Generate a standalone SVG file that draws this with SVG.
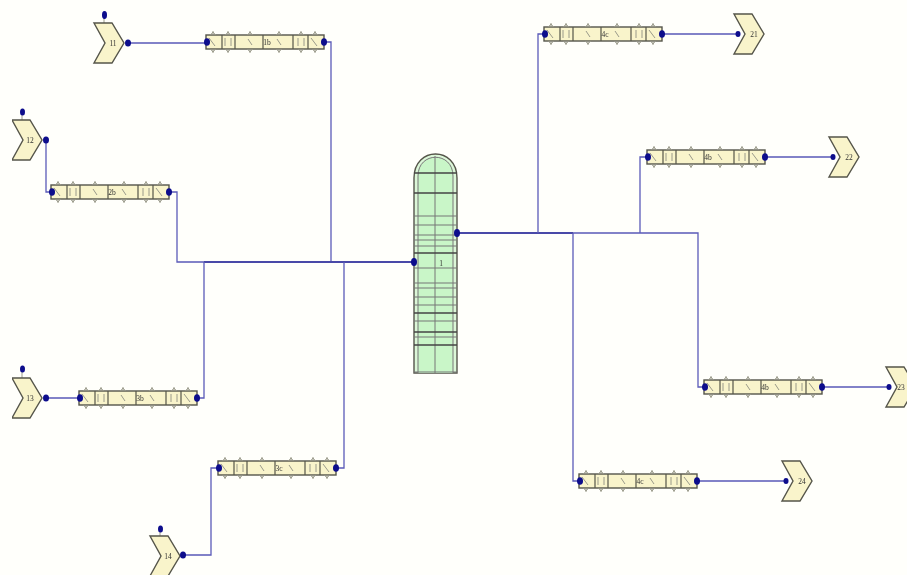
<svg xmlns="http://www.w3.org/2000/svg" width="907" height="575" viewBox="0 0 907 575">
<style>
.c{fill:none;stroke:#5a5ab8;stroke-width:1.3}
.t{stroke-width:2;stroke:#4a4aa8;fill:none}
.d{fill:#0a0a8c}
.sh{fill:#f9f4cb;stroke:#55554a;stroke-width:1.4}
.div{stroke:#55554a;stroke-width:1.2;fill:none}
.nz{stroke:#9a9a8a;stroke-width:1;fill:none}
.hl{stroke:#777;stroke-width:1.2}
.hb{stroke:#444;stroke-width:1.6}
text{font-family:"Liberation Serif",serif;fill:#333}
.l{font-size:7.500px;text-anchor:middle}
</style>
<defs>
<filter id="b" x="0" y="0" width="100%" height="100%"><feGaussianBlur stdDeviation="0.55"/></filter>
<g id="hx">
<rect x="0" y="-7" width="118" height="14" class="sh"/>
<path class="div" d="M16-7V7M29-7V7M57-7V7M87-7V7M102-7V7"/>
<path class="nz" d="M7-7v-4M22-7v-4M44-7v-4M73-7v-4M95-7v-4M109-7v-4M7 7v4M22 7v4M44 7v4M73 7v4M95 7v4M109 7v4"/>
<path class="nz" d="M4.500-7l2.500-3 2.500 3M19.500-7l2.500-3 2.500 3M41.500-7l2.500-3 2.500 3M70.500-7l2.500-3 2.500 3M92.500-7l2.500-3 2.500 3M106.500-7l2.500-3 2.500 3M4.500 7l2.500 3 2.500-3M19.500 7l2.500 3 2.500-3M41.500 7l2.500 3 2.500-3M70.500 7l2.500 3 2.500-3M92.500 7l2.500 3 2.500-3M106.500 7l2.500 3 2.500-3"/>
<path class="nz" d="M3-4l6 8M19-4v8M25-4v8M42-3l4 6M71-3l4 6M92-4v8M98-4v8M105-4l6 8"/>
<ellipse cx="1" cy="0" rx="3" ry="3.800" class="d"/>
<ellipse cx="118" cy="0" rx="3" ry="3.800" class="d"/>
</g>
<path id="ch" class="sh" d="M0-20H18L30 0 18 20H0L11 0Z"/>
</defs>
<rect width="907" height="575" fill="#fffffb"/>
<g filter="url(#b)">
<g id="connectors">
<path class="c" d="M127 43H206M324 42H331V262"/>
<path class="c" d="M46 140V192H52M169 192H177V262H204"/>
<path class="t" d="M204 262H414"/>
<path class="c" d="M46 398H79M197 398H204V262"/>
<path class="c" d="M183 555H211V468H218M336 468H344V262"/>
<path class="t" d="M457 233H573"/>
<path class="c" d="M573 233H698V387H704M538 233V34H544M640 233V157H647M573 233V481H579"/>
<path class="c" d="M662 34H738M765 157H833M822 387H889M697 481H786"/>
</g>
<g id="column">
<path d="M414 373V178C414 146 457 146 457 178V373Z" fill="#dcf7d8" stroke="#55554a" stroke-width="1.4"/>
<path d="M418 373V176C418 151 453 151 453 176V373" fill="#c9f6c8" stroke="#777" stroke-width="1"/>
<path d="M435 156V373" stroke="#777" stroke-width="1"/>
<path class="hb" d="M414 173H457M414 193H457M414 253H457M414 313H457M414 332H457M414 345H457"/>
<path class="hl" d="M414 216H457M414 225H457M414 235H457M414 240H457M414 246H457M414 268H457M414 283H457M414 288H457M414 297H457M414 305H457M414 321H457M414 337H457M414 372H457"/>
<ellipse cx="414" cy="262" rx="3" ry="4" class="d"/>
<ellipse cx="457" cy="233" rx="3" ry="4" class="d"/>
<text class="l" x="441" y="266">1</text>
</g>
<g id="hxA"><use href="#hx" x="206" y="42"/><text class="l" x="267" y="45">1b</text></g>
<g id="hxB"><use href="#hx" x="51" y="192"/><text class="l" x="112" y="195">2b</text></g>
<g id="hxC"><use href="#hx" x="79" y="398"/><text class="l" x="140" y="401">3b</text></g>
<g id="hxD"><use href="#hx" x="218" y="468"/><text class="l" x="279" y="471">3c</text></g>
<g id="hxE"><use href="#hx" x="544" y="34"/><text class="l" x="605" y="37">4c</text></g>
<g id="hxF"><use href="#hx" x="647" y="157"/><text class="l" x="708" y="160">4b</text></g>
<g id="hxG"><use href="#hx" x="704" y="387"/><text class="l" x="765" y="390">4b</text></g>
<g id="hxH"><use href="#hx" x="579" y="481"/><text class="l" x="640" y="484">4c</text></g>
<g id="s11"><path class="nz" d="M104 15V23"/><use href="#ch" x="94" y="43"/><ellipse cx="104.500" cy="15" rx="2.500" ry="4" class="d"/><ellipse cx="128" cy="43" rx="3" ry="3.500" class="d"/><text class="l" x="113" y="46">11</text></g>
<g id="s12"><path class="nz" d="M22 112V120"/><use href="#ch" x="12" y="140"/><ellipse cx="22.500" cy="112" rx="2.500" ry="3.500" class="d"/><ellipse cx="46" cy="140" rx="3" ry="3.500" class="d"/><text class="l" x="30" y="143">12</text></g>
<g id="s13"><path class="nz" d="M22 369V378"/><use href="#ch" x="12" y="398"/><ellipse cx="22.500" cy="369" rx="2.500" ry="3.500" class="d"/><ellipse cx="46" cy="398" rx="3" ry="3.500" class="d"/><text class="l" x="30" y="401">13</text></g>
<g id="s14"><path class="nz" d="M160 529V536"/><use href="#ch" x="150" y="556"/><ellipse cx="160.500" cy="529" rx="2.500" ry="3.500" class="d"/><ellipse cx="183" cy="555" rx="3" ry="3.500" class="d"/><text class="l" x="168" y="559">14</text></g>
<g id="s21"><use href="#ch" x="734" y="34"/><ellipse cx="738" cy="34" rx="2.500" ry="3" class="d"/><text class="l" x="754" y="37">21</text></g>
<g id="s22"><use href="#ch" x="829" y="157"/><ellipse cx="833" cy="157" rx="2.500" ry="3" class="d"/><text class="l" x="849" y="160">22</text></g>
<g id="s23"><use href="#ch" x="886" y="387"/><ellipse cx="889" cy="387" rx="2.500" ry="3" class="d"/><text class="l" x="901" y="390">23</text></g>
<g id="s24"><use href="#ch" x="782" y="481"/><ellipse cx="786" cy="481" rx="2.500" ry="3" class="d"/><text class="l" x="802" y="484">24</text></g>
</g>
</svg>
